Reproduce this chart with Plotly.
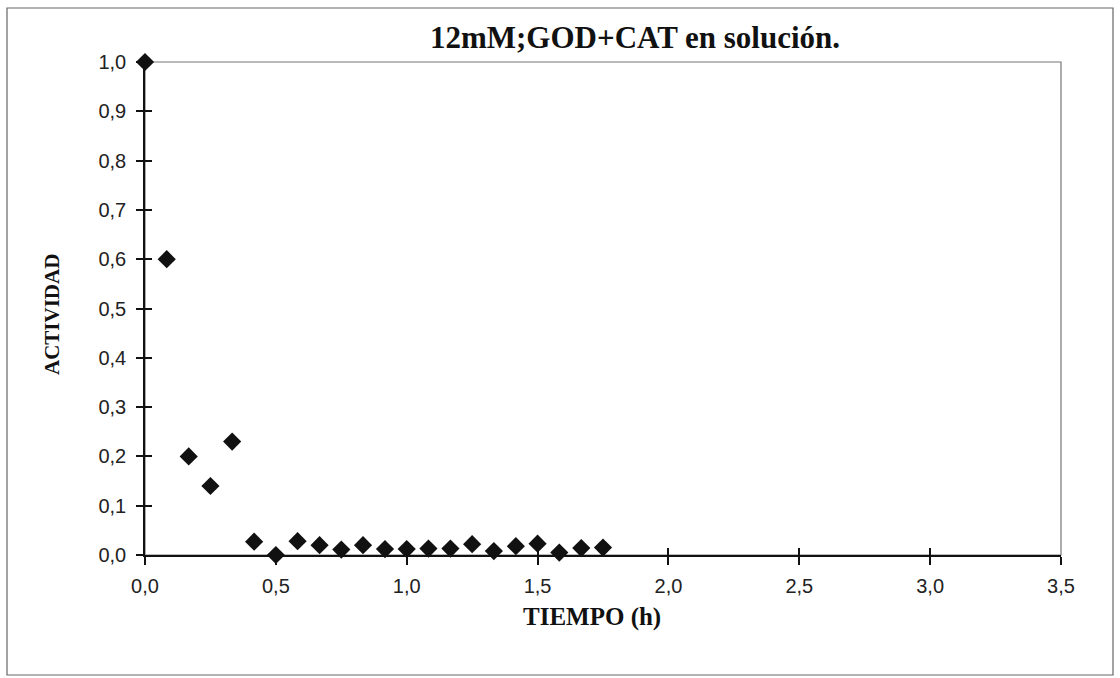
import plotly.graph_objects as go

# Activity of GOD+CAT in solution (12 mM) over time
tiempo_h = [0.0, 0.083, 0.167, 0.25, 0.333, 0.417, 0.5, 0.583, 0.667, 0.75, 0.833,
            0.917, 1.0, 1.083, 1.167, 1.25, 1.333, 1.417, 1.5, 1.583, 1.667, 1.75]
actividad = [1.0, 0.60, 0.20, 0.14, 0.23, 0.027, 0.0, 0.028, 0.020, 0.011, 0.020,
             0.012, 0.012, 0.013, 0.013, 0.022, 0.008, 0.018, 0.023, 0.005, 0.014, 0.015]

x_ticks = [0.0, 0.5, 1.0, 1.5, 2.0, 2.5, 3.0, 3.5]
y_ticks = [0.0, 0.1, 0.2, 0.3, 0.4, 0.5, 0.6, 0.7, 0.8, 0.9, 1.0]

titulo = "12mM;GOD+CAT en solución."
titulo_x = "TIEMPO (h)"
titulo_y = "ACTIVIDAD"

W, H = 1120, 678
L, R, T, B = 145, 59, 62, 123
pw, ph = W - L - R, H - T - B

serif = "Liberation Serif, Times New Roman, serif"
sans = "Liberation Sans, Arial, sans-serif"

fig = go.Figure()
fig.add_trace(go.Scatter(
    x=tiempo_h, y=actividad, mode="markers",
    marker=dict(symbol="diamond", size=14, color="#111111"),
    cliponaxis=False, showlegend=False,
))
# empty trace on the overlay axes so their inner ticks render
fig.add_trace(go.Scatter(x=[None], y=[None], xaxis="x2", yaxis="y2",
                         showlegend=False, hoverinfo="skip"))

axis_common = dict(showgrid=False, zeroline=False, linecolor="#111111", linewidth=1.5,
                   tickcolor="#111111", tickwidth=1.5)

fig.update_layout(
    width=W, height=H,
    margin=dict(l=L, r=R, t=T, b=B),
    paper_bgcolor="white", plot_bgcolor="white",
    separators=", ",
    title=dict(text=titulo, x=635 / W, xanchor="center",
               y=1 - 37 / H, yanchor="middle",
               font=dict(family=serif, size=31, color="#111111", weight="bold")),
    xaxis=dict(range=[0, 3.5], tickvals=x_ticks, tickformat=".1f", ticks="outside",
               ticklen=8, showline=True, ticklabelstandoff=4,
               tickfont=dict(family=sans, size=20, color="#222222"), **axis_common),
    yaxis=dict(range=[0, 1.0], tickvals=y_ticks, tickformat=".1f", ticks="outside",
               ticklen=7, showline=True, ticklabelstandoff=6,
               tickfont=dict(family=sans, size=20, color="#222222"), **axis_common),
    xaxis2=dict(range=[0, 3.5], tickvals=x_ticks, ticks="inside", ticklen=7,
                showticklabels=False, overlaying="x", anchor="y2", side="bottom",
                showline=False, showgrid=False, zeroline=False,
                tickcolor="#111111", tickwidth=1.5),
    yaxis2=dict(range=[0, 1.0], tickvals=y_ticks, ticks="inside", ticklen=7,
                showticklabels=False, overlaying="y", anchor="x2", side="left",
                showline=False, showgrid=False, zeroline=False,
                tickcolor="#111111", tickwidth=1.5),
    shapes=[
        # plot frame (top and right edges in grey)
        dict(type="rect", xref="paper", yref="paper", x0=0, x1=1, y0=0, y1=1,
             line=dict(color="#777777", width=1.2), layer="below"),
        # outer chart border
        dict(type="rect", xref="paper", yref="paper",
             x0=(7 - L) / pw, x1=(1113 - L) / pw,
             y0=(H - B - 675) / ph, y1=(H - B - 8) / ph,
             line=dict(color="#666666", width=1.2), layer="below"),
    ],
    annotations=[
        dict(text=titulo_x, xref="paper", yref="paper", x=(592 - L) / pw,
             y=(H - B - 617) / ph, xanchor="center", yanchor="middle", showarrow=False,
             font=dict(family=serif, size=25, color="#111111", weight="bold")),
        dict(text=titulo_y, xref="paper", yref="paper", x=(52 - L) / pw,
             y=(H - B - 315) / ph, xanchor="center", yanchor="middle", showarrow=False,
             textangle=-90, font=dict(family=serif, size=21, color="#111111", weight="bold")),
    ],
)

fig.write_html("out.html")
